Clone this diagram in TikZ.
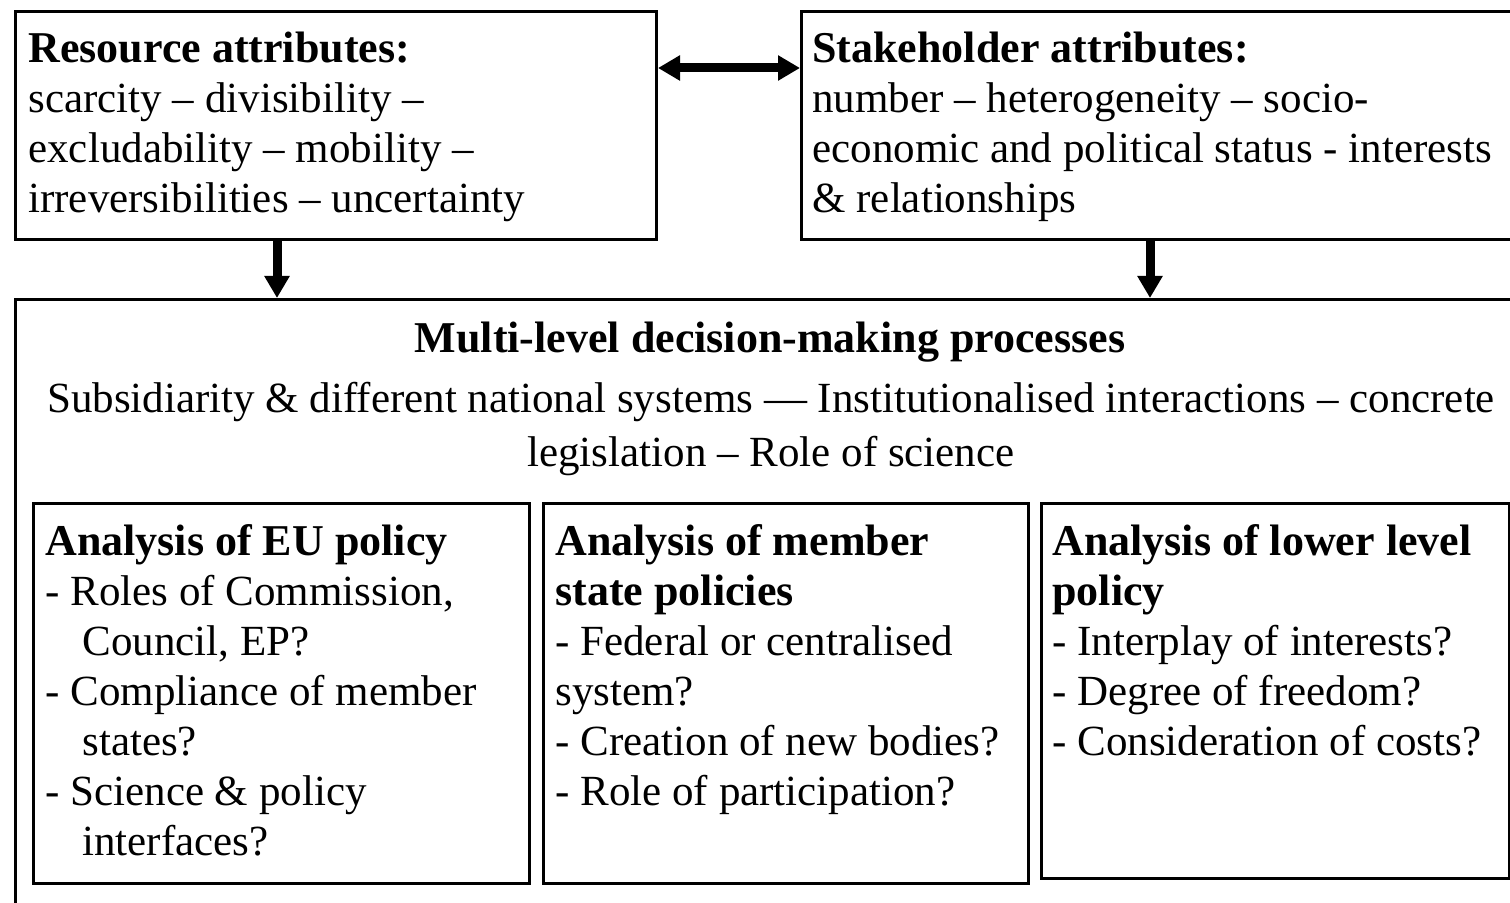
\documentclass[tikz,border=0pt]{standalone}
\usepackage{fontspec}
\setmainfont{Liberation Serif}
\usetikzlibrary{arrows.meta}

\newcommand\hd[1]{{\fontsize{22}{25}\selectfont\bfseries #1}}

\tikzset{
  box/.style={draw, line width=1.5pt, anchor=north west, inner sep=0pt},
  subbox/.style={draw, line width=1.3pt, anchor=north west, inner sep=0pt},
  txt/.style={anchor=north west, align=left, inner sep=0pt, font=\fontsize{21.5}{25}\selectfont},
  conn/.style={line width=4.5pt, -{Triangle[length=11pt,width=12pt]}},
}

\begin{document}
\begin{tikzpicture}[x=0.5pt,y=-0.5pt]
\useasboundingbox (0,0) rectangle (1510,903);
\clip (0,0) rectangle (1510,903);
% top row
\node[box, minimum width=320.5pt, minimum height=114pt] (res) at (14,10) {};
\node[box, minimum width=370pt, minimum height=114pt] (stake) at (800,10) {};
\node[txt] (restxt) at (28,27) {\strut\hd{Resource attributes:}\\
  scarcity –  divisibility –\\
  excludability –  mobility –\\
  irreversibilities – uncertainty};
\node[txt] (staketxt) at (812,27) {\strut\hd{Stakeholder attributes:}\\
  number – heterogeneity – socio-\\
  economic and political status - interests\\
  \& relationships};
% main box
\node[box, minimum width=758pt, minimum height=316pt] (multi) at (14,298) {};
\node[txt, anchor=north, align=center] (title) at (770,317) {\strut\hd{Multi-level decision-making processes}};
\node[txt, anchor=north, align=center, font=\fontsize{21.5}{27}\selectfont] (sub) at (771,374)
  {\strut Subsidiarity \& different national systems — Institutionalised interactions – concrete\\
   legislation – Role of science};
% analysis boxes
\node[subbox, minimum width=248pt, minimum height=190pt] (eu) at (32,502) {};
\node[subbox, minimum width=242.5pt, minimum height=190pt] (ms) at (542,502) {};
\node[subbox, minimum width=234pt, minimum height=187.5pt] (low) at (1040,502) {};
\node[txt] (eutxt) at (45,520) {\strut\hd{Analysis of EU policy}\\
  - Roles of Commission,\\
  \hspace*{18.5pt}Council, EP?\\
  - Compliance of member\\
  \hspace*{18.5pt}states?\\
  - Science \& policy\\
  \hspace*{18.5pt}interfaces?};
\node[txt] (mstxt) at (555,520) {\strut\hd{Analysis of member}\\
  \hd{state policies}\\
  - Federal or centralised\\
  system?\\
  - Creation of new bodies?\\
  - Role of participation?};
\node[txt] (lowtxt) at (1052,520) {\strut\hd{Analysis of lower level}\\
  \hd{policy}\\
  - Interplay of interests?\\
  - Degree of freedom?\\
  - Consideration of costs?};
% connectors
\coordinate (ra) at (277,0);
\coordinate (sa) at (1150,0);
\coordinate (mid) at (0,68);
\draw[conn, {Triangle[length=11pt,width=12pt]}-{Triangle[length=11pt,width=12pt]}] (res.east |- mid) -- (stake.west |- mid);
\draw[conn] (res.south -| ra) -- (multi.north -| ra);
\draw[conn] (stake.south -| sa) -- (multi.north -| sa);
\end{tikzpicture}
\end{document}
